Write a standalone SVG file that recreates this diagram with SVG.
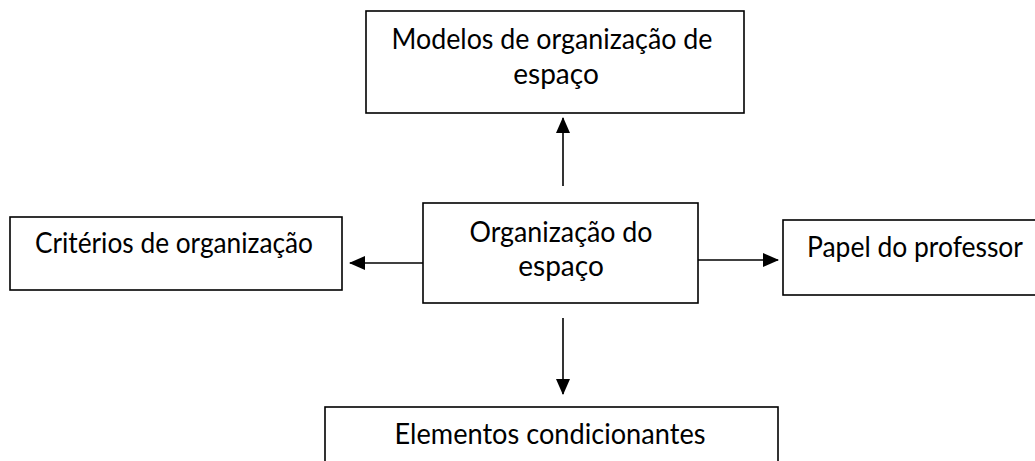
<svg xmlns="http://www.w3.org/2000/svg" width="1035" height="461" viewBox="0 0 1035 461">
<style>
.box{fill:#fff;stroke:#000;stroke-width:1.6}
.t{font-family:Lato,"Liberation Sans",sans-serif;font-size:28px;fill:#000;text-anchor:middle}
.c{stroke:#000;stroke-width:1.6;fill:none}
</style>
<defs>
<marker id="ah" markerWidth="16" markerHeight="14" refX="15" refY="7" orient="auto" markerUnits="userSpaceOnUse">
<path d="M0,0 L16,7 L0,14 Z" fill="#000"/>
</marker>
</defs>
<rect width="1035" height="461" fill="#fff"/>
<g id="top">
<rect class="box" x="366" y="11" width="378" height="102"/>
<text class="t" x="552" y="49" textLength="321" lengthAdjust="spacingAndGlyphs">Modelos de organização de</text>
<text class="t" x="556" y="84">espaço</text>
</g>
<g id="left">
<rect class="box" x="10" y="217" width="332" height="73"/>
<text class="t" x="174" y="253" textLength="278" lengthAdjust="spacingAndGlyphs">Critérios de organização</text>
</g>
<g id="center">
<rect class="box" x="423" y="203" width="275" height="100"/>
<text class="t" x="561" y="242" textLength="183" lengthAdjust="spacingAndGlyphs">Organização do</text>
<text class="t" x="561" y="276">espaço</text>
</g>
<g id="right">
<rect class="box" x="783" y="220" width="262" height="75"/>
<text class="t" x="915" y="257" textLength="216" lengthAdjust="spacingAndGlyphs">Papel do professor</text>
</g>
<g id="bottom">
<rect class="box" x="325" y="407" width="453" height="70"/>
<text class="t" x="550" y="444" textLength="311" lengthAdjust="spacingAndGlyphs">Elementos condicionantes</text>
</g>
<g id="connectors">
<line class="c" x1="563" y1="186" x2="563" y2="118" marker-end="url(#ah)"/>
<line class="c" x1="423" y1="263" x2="350" y2="263" marker-end="url(#ah)"/>
<line class="c" x1="698" y1="260" x2="778" y2="260" marker-end="url(#ah)"/>
<line class="c" x1="563" y1="318" x2="563" y2="394" marker-end="url(#ah)"/>
</g>
</svg>
